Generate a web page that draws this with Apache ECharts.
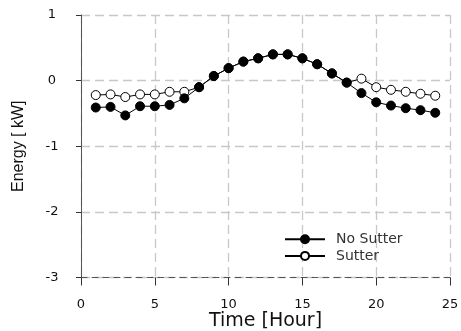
<!DOCTYPE html>
<html>
<head>
<meta charset="utf-8">
<script src="https://cdn.jsdelivr.net/npm/echarts@6/dist/echarts.min.js"></script>
<style>
  html, body { margin: 0; padding: 0; background: #fff; }
  #chart { width: 461px; height: 331px; }
</style>
</head>
<body>
<div id="chart"></div>
<script>
const hours = [1, 2, 3, 4, 5, 6, 7, 8, 9, 10, 11, 12, 13, 14, 15, 16, 17, 18, 19, 20, 21, 22, 23, 24];
const noSutter = [-0.41, -0.40, -0.53, -0.39, -0.39, -0.37, -0.27, -0.10, 0.07, 0.19, 0.29, 0.34,
                  0.40, 0.40, 0.34, 0.25, 0.11, -0.03, -0.19, -0.33, -0.38, -0.42, -0.45, -0.49];
const sutter = [-0.22, -0.21, -0.25, -0.21, -0.21, -0.17, -0.17, -0.10, 0.07, 0.19, 0.29, 0.34,
                0.40, 0.40, 0.34, 0.25, 0.11, -0.03, 0.03, -0.10, -0.14, -0.17, -0.20, -0.23];

const chart = echarts.init(document.getElementById('chart'));

const pair = (ys) => hours.map((h, i) => [h, ys[i]]);
const gridLine = { show: true, lineStyle: { color: '#c8c8c8', type: [9, 5], width: 1.3 } };
const tickFont = { fontFamily: 'DejaVu Sans', fontSize: 13, color: '#111' };

const option = {
  animation: false,
  backgroundColor: '#fff',
  grid: { left: 81, right: 11, top: 15, bottom: 53.5, outerBoundsMode: 'none', containLabel: false },
  legend: {
    left: 284,
    top: 231,
    padding: 0,
    orient: 'vertical',
    itemWidth: 40,
    itemHeight: 10,
    itemGap: 0,
    textStyle: { fontFamily: 'DejaVu Sans', fontSize: 14, color: '#333', lineHeight: 16.6, padding: [0, 0, 0, 6] },
    data: ['No Sutter', 'Sutter']
  },
  xAxis: {
    type: 'value',
    min: 0,
    max: 25,
    interval: 5,
    name: 'Time [Hour]',
    nameLocation: 'middle',
    nameGap: 34,
    nameMoveOverlap: false,
    nameTextStyle: { fontFamily: 'DejaVu Sans', fontSize: 19, color: '#111' },
    axisLine: { show: true, onZero: false, lineStyle: { color: '#555', type: [6, 5], width: 1 } },
    axisTick: { show: true, inside: false, length: 8, lineStyle: { color: '#333' } },
    axisLabel: Object.assign({ margin: 21 }, tickFont),
    splitLine: gridLine
  },
  yAxis: {
    type: 'value',
    min: -3,
    max: 1,
    interval: 1,
    name: 'Energy [ kW]',
    nameLocation: 'middle',
    nameGap: 54,
    nameMoveOverlap: false,
    nameRotate: 90,
    nameTextStyle: { fontFamily: 'Liberation Sans', fontSize: 16, color: '#111' },
    axisLine: { show: true, onZero: false, lineStyle: { color: '#555', width: 1 } },
    axisTick: { show: true, inside: false, length: 5, lineStyle: { color: '#333' } },
    axisLabel: Object.assign({ margin: 29, align: 'center' }, tickFont),
    splitLine: gridLine
  },
  series: [
    {
      name: 'No Sutter',
      type: 'line',
      z: 3,
      data: pair(noSutter),
      symbol: 'circle',
      symbolSize: 9,
      lineStyle: { color: '#000', width: 1 },
      itemStyle: { color: '#000', borderColor: '#000', borderWidth: 1 }
    },
    {
      name: 'Sutter',
      type: 'line',
      z: 2,
      data: pair(sutter),
      symbol: 'circle',
      symbolSize: 9,
      lineStyle: { color: '#000', width: 1 },
      itemStyle: { color: '#fff', borderColor: '#000', borderWidth: 1 }
    }
  ]
};

chart.setOption(option);
</script>
</body>
</html>
